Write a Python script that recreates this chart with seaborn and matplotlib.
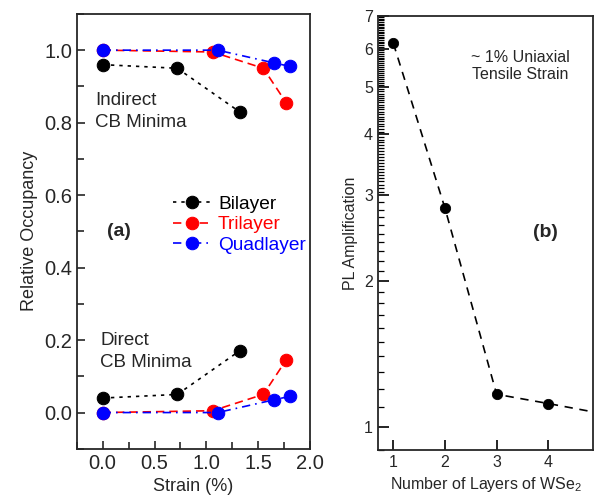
import numpy as np
import pandas as pd
import matplotlib
matplotlib.use('Agg')
import matplotlib.pyplot as plt
from matplotlib.ticker import MultipleLocator, FixedLocator, FuncFormatter
import seaborn as sns

# panel (a) data: strain (%) and relative occupancy
bi_strain = [0.0, 0.72, 1.32]
bi_indirect = [0.96, 0.95, 0.83]
bi_direct = [0.04, 0.05, 0.17]

tri_strain = [0.0, 1.06, 1.55, 1.77]
tri_indirect = [1.0, 0.995, 0.95, 0.855]
tri_direct = [0.0, 0.005, 0.05, 0.145]

quad_strain = [0.0, 1.11, 1.65, 1.81]
quad_indirect = [1.0, 1.0, 0.965, 0.955]
quad_direct = [0.0, 0.0, 0.035, 0.045]

# panel (b) data: PL amplification vs number of layers
layers = [1, 2, 3, 4]
amplification = [6.15, 2.82, 1.17, 1.12]
trend_layers = [1, 2, 3, 4, 4.9]
trend_amp = [6.15, 2.82, 1.17, 1.12, 1.075]

sns.set_style('ticks')
plt.rcParams['font.family'] = ['Liberation Sans', 'DejaVu Sans']
plt.rcParams['mathtext.fontset'] = 'custom'
plt.rcParams['mathtext.rm'] = 'Liberation Sans'
plt.rcParams['mathtext.it'] = 'Liberation Sans:italic'

fig = plt.figure(figsize=(5.95, 4.97), dpi=100)
ax1 = fig.add_axes([0.129, 0.097, 0.392, 0.875])
ax2 = fig.add_axes([0.635, 0.095, 0.362, 0.873])

series = [
    ('Bilayer', 'black', (2, 3), bi_strain, bi_indirect, bi_direct),
    ('Trilayer', '#ff0000', (5, 3), tri_strain, tri_indirect, tri_direct),
    ('Quadlayer', '#0000ff', (5, 3, 1, 3), quad_strain, quad_indirect, quad_direct),
]

for name, color, dash, xs, ind, dirc in series:
    df_ind = pd.DataFrame({'strain': xs, 'occ': ind})
    df_dir = pd.DataFrame({'strain': xs, 'occ': dirc})
    for df, lab in [(df_ind, name), (df_dir, None)]:
        sns.lineplot(data=df, x='strain', y='occ', ax=ax1, color=color,
                     marker='o', markersize=9, markeredgecolor=color,
                     linewidth=1.2, dashes=False, label=lab, legend=False)
        ax1.lines[-1].set_dashes(dash)

ax1.set_xlim(-0.25, 2.0)
ax1.set_ylim(-0.1, 1.1)
ax1.xaxis.set_major_locator(MultipleLocator(0.5))
ax1.xaxis.set_minor_locator(MultipleLocator(0.25))
ax1.yaxis.set_major_locator(MultipleLocator(0.2))
ax1.yaxis.set_minor_locator(MultipleLocator(0.1))
ax1.set_xticks([0.0, 0.5, 1.0, 1.5, 2.0])
ax1.set_xticklabels(['0.0', '0.5', '1.0', '1.5', '2.0'])
ax1.set_yticks([0.0, 0.2, 0.4, 0.6, 0.8, 1.0])
ax1.set_yticklabels(['0.0', '0.2', '0.4', '0.6', '0.8', '1.0'])
ax1.tick_params(which='both', direction='in', labelsize=14.5, width=1.2)
ax1.tick_params(which='major', length=6)
ax1.tick_params(which='minor', length=5)
ax1.set_xlabel('Strain (%)', fontsize=13)
ax1.set_ylabel('Relative Occupancy', fontsize=13)

leg = ax1.legend(loc='upper left', bbox_to_anchor=(0.38, 0.60), frameon=False,
                 fontsize=13.8, handlelength=2.0, handletextpad=0.35,
                 labelspacing=0.15, borderaxespad=0)
for txt, (_, color, *_rest) in zip(leg.get_texts(), series):
    txt.set_color(color)

ax1.text(0.08, 0.82, 'Indirect\nCB Minima', transform=ax1.transAxes,
         fontsize=13.5, va='top', ha='left', linespacing=1.4)
ax1.text(0.10, 0.268, 'Direct\nCB Minima', transform=ax1.transAxes,
         fontsize=13.5, va='top', ha='left', linespacing=1.4)
ax1.text(0.13, 0.50, '(a)', transform=ax1.transAxes, fontsize=14,
         fontweight='bold', va='center', ha='left')

# panel (b)
sns.lineplot(x=trend_layers, y=trend_amp, ax=ax2, color='black',
             linewidth=1.2, legend=False)
ax2.lines[-1].set_dashes((5, 4))
sns.scatterplot(x=layers, y=amplification, ax=ax2, color='black', s=55,
                edgecolor='black', zorder=3, legend=False)

ax2.set_yscale('log')
ax2.set_xlim(0.7, 4.87)
ax2.set_ylim(0.9, 7.0)
ax2.set_xticks(layers)
ax2.set_xticklabels([str(v) for v in layers])
ax2.yaxis.set_minor_locator(FixedLocator([]))

# all y ticks as one set, labels only on whole numbers
y_ticks = np.round(np.concatenate([np.arange(0.9, 3.0, 0.1),
                                   np.arange(3.0, 7.01, 0.05)]), 3)
ax2.yaxis.set_major_locator(FixedLocator(y_ticks))
ax2.yaxis.set_major_formatter(FuncFormatter(
    lambda v, pos: f'{v:.0f}' if abs(v - round(v)) < 1e-6 else ''))
ax2.tick_params(which='major', direction='in', labelsize=11.5, width=1.0,
                color='black')
ax2.tick_params(axis='x', which='major', length=7, width=1.2)
for val, tick in zip(y_ticks, ax2.yaxis.get_major_ticks(len(y_ticks))):
    whole = abs(val - round(val)) < 1e-6
    tick.tick1line.set_markersize(8 if whole else 4)
    tick.tick1line.set_markeredgewidth(1.2 if whole else 0.9)
ax2.set_xlabel('Number of Layers of WSe$_2$', fontsize=11.5)
ax2.set_ylabel('PL Amplification', fontsize=11.5)

ax2.text(0.66, 0.885, '~ 1% Uniaxial\nTensile Strain', transform=ax2.transAxes,
         fontsize=11.5, ha='center', va='center', linespacing=1.2)
ax2.text(0.78, 0.50, '(b)', transform=ax2.transAxes, fontsize=14,
         fontweight='bold', ha='center', va='center')

for ax in (ax1, ax2):
    for sp in ax.spines.values():
        sp.set_linewidth(1.3)
        sp.set_visible(True)

fig.savefig('out.png', dpi=100)
